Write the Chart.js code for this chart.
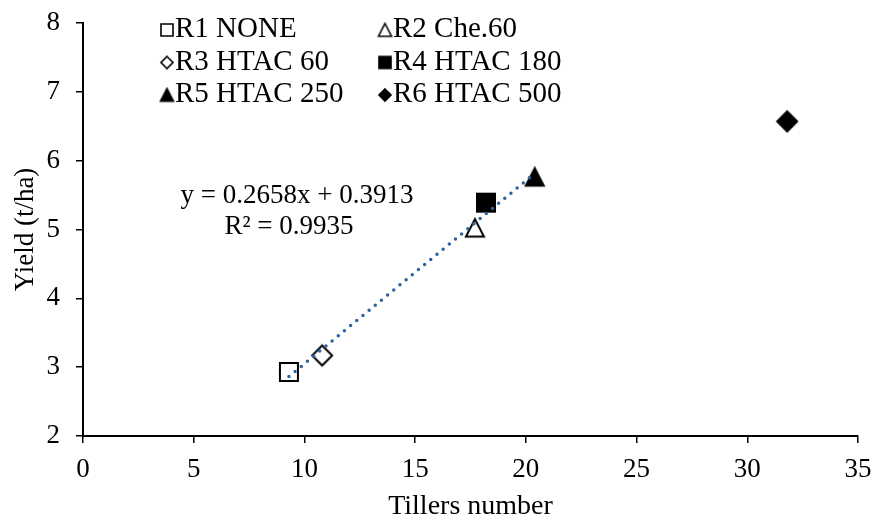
<!DOCTYPE html>
<html>
<head>
<meta charset="utf-8">
<script src="https://cdn.jsdelivr.net/npm/chart.js@4.4.0/dist/chart.umd.min.js"></script>
<style>
  html, body { margin: 0; padding: 0; background: #fff; }
  #wrap { width: 872px; height: 521px; }
</style>
</head>
<body>
<div id="wrap"><canvas id="grafico" width="872" height="521"></canvas></div>
<script>
// dados
var treatments = ['R1 NONE', 'R2 Che.60', 'R3 HTAC 60', 'R4 HTAC 180', 'R5 HTAC 250', 'R6 HTAC 500'];
var tillers = [9.3, 17.7, 10.8, 18.2, 20.4, 31.8];
var yieldTha = [2.93, 5.02, 3.17, 5.39, 5.76, 6.57];
var xTicks = [0, 5, 10, 15, 20, 25, 30, 35];
var yTicks = [2, 3, 4, 5, 6, 7, 8];
// linha de tendencia (R1..R5), equacao do grafico
var slope = 0.2658;
var intercept = 0.3913;
var r2 = 0.9935;
var trendFrom = 9.3, trendTo = 20.4;

var FONT = '"Liberation Serif", "Times New Roman", serif';
var shapes = ['square', 'triangle', 'diamond', 'square', 'triangle', 'diamond'];
var filled = [false, false, false, true, true, true];

// desenha o marcador num canvas pequeno
function marker(shape, fill, size, lw) {
    var c = document.createElement('canvas');
    var s = Math.ceil(size + lw + 2);
    c.width = s; c.height = s;
    var g = c.getContext('2d');
    var m = s / 2, h = size / 2;
    g.beginPath();
    if (shape == 'square') {
        g.rect(m - h, m - h, size, size);
    } else if (shape == 'triangle') {
        g.moveTo(m, m - h);
        g.lineTo(m + h, m + h * 0.95);
        g.lineTo(m - h, m + h * 0.95);
        g.closePath();
    } else {
        g.moveTo(m, m - h);
        g.lineTo(m + h, m);
        g.lineTo(m, m + h);
        g.lineTo(m - h, m);
        g.closePath();
    }
    g.fillStyle = fill ? '#000' : '#fff';
    g.fill();
    g.lineWidth = lw;
    g.lineJoin = 'miter';
    g.strokeStyle = '#000';
    g.stroke();
    return c;
}

var bigSize = { square: 18, triangle: 18, diamond: 20 };
var smallSize = { square: 12, triangle: 13, diamond: 12 };

var datasets = treatments.map(function (t, i) {
    return {
        label: t,
        data: [{ x: tillers[i], y: yieldTha[i] }],
        pointStyle: marker(shapes[i], filled[i], bigSize[shapes[i]], 2),
        pointRadius: 10,
        showLine: false,
        order: 1
    };
});

// linha pontilhada por cima dos marcadores
datasets.push({
    label: 'trend',
    data: [
        { x: trendFrom, y: slope * trendFrom + intercept },
        { x: trendTo, y: slope * trendTo + intercept }
    ],
    showLine: true,
    borderColor: '#2c64a0',
    borderWidth: 3.5,
    borderDash: [0, 8],
    borderCapStyle: 'round',
    pointRadius: 0,
    order: 0
});

// legenda em duas colunas + equacao
var extras = {
    id: 'extras',
    afterDraw: function (chart) {
        var ctx = chart.ctx;
        ctx.save();
        ctx.fillStyle = '#000';
        ctx.font = '29px ' + FONT;
        ctx.textBaseline = 'alphabetic';
        ctx.textAlign = 'left';
        var colX = [167, 385];
        var rowY = [37, 69.5, 102];
        for (var i = 0; i < treatments.length; i++) {
            var cx = colX[i % 2], by = rowY[Math.floor(i / 2)];
            var mk = marker(shapes[i], filled[i], smallSize[shapes[i]], 1.6);
            ctx.drawImage(mk, cx - mk.width / 2, by - 7 - mk.height / 2);
            ctx.fillText(treatments[i], cx + 8, by);
        }
        ctx.font = '27px ' + FONT;
        ctx.textAlign = 'center';
        ctx.fillText('y = ' + slope + 'x + ' + intercept, 297, 203);
        ctx.fillText('R\u00b2 = ' + r2, 289, 234);
        ctx.restore();
    }
};

Chart.defaults.color = '#000';
Chart.defaults.font.family = FONT;
Chart.defaults.font.weight = 'normal';

new Chart(document.getElementById('grafico'), {
    type: 'scatter',
    data: { datasets: datasets },
    options: {
        responsive: false,
        animation: false,
        events: [],
        layout: { padding: { top: 23, right: 14, left: 0, bottom: 0 } },
        plugins: { legend: { display: false }, tooltip: { enabled: false } },
        scales: {
            x: {
                type: 'linear',
                min: 0, max: 35,
                afterBuildTicks: function (axis) { axis.ticks = xTicks.map(function (v) { return { value: v }; }); },
                afterFit: function (axis) {
                    axis.height = 85;
                    axis.paddingLeft = 0;
                    axis.paddingRight = 0;
                },
                grid: { display: true, drawOnChartArea: false, drawTicks: true, tickLength: 7, color: '#000', lineWidth: 1.5 },
                border: { display: true, color: '#000', width: 2 },
                ticks: { font: { size: 27 }, padding: 11, maxRotation: 0 },
                title: { display: true, text: 'Tillers number', font: { size: 28, weight: 'normal' }, padding: { top: 0, bottom: -2 } }
            },
            y: {
                type: 'linear',
                min: 2, max: 8,
                afterBuildTicks: function (axis) { axis.ticks = yTicks.map(function (v) { return { value: v }; }); },
                afterFit: function (axis) {
                    axis.width = 83;
                    axis.paddingTop = 0;
                    axis.paddingBottom = 0;
                },
                grid: { display: true, drawOnChartArea: false, drawTicks: true, tickLength: 7, color: '#000', lineWidth: 1.5 },
                border: { display: true, color: '#000', width: 2 },
                ticks: { font: { size: 27 }, padding: 16 },
                title: { display: true, text: 'Yield (t/ha)', font: { size: 27, weight: 'normal' }, padding: { top: 10, bottom: 0 } }
            }
        }
    },
    plugins: [extras]
});
</script>
</body>
</html>
